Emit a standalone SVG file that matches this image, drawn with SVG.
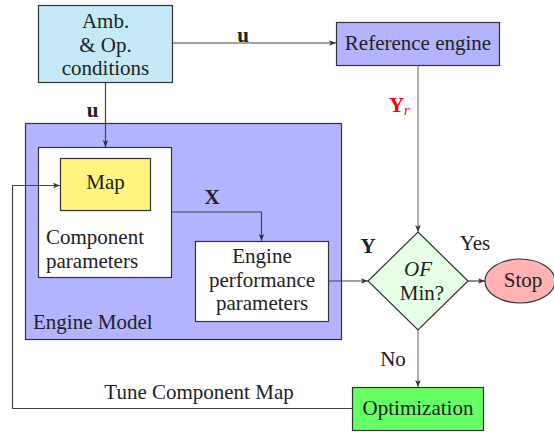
<svg xmlns="http://www.w3.org/2000/svg" width="554" height="432" viewBox="0 0 554 432">
<style>
text{font-family:"Liberation Serif","Times New Roman",serif;font-size:21px;fill:#222}
.c{text-anchor:middle}
.b{font-weight:bold}
.box{stroke:#333;stroke-width:1.2}
.ln{fill:none;stroke:#444;stroke-width:1.2}
.g{stroke:#777}
</style>
<defs>
<marker id="a" viewBox="0 0 10 10" refX="10" refY="5" markerWidth="7" markerHeight="7" orient="auto" markerUnits="userSpaceOnUse">
<path d="M0,1 L10,5 L0,9 L2.5,5 Z" fill="#333"/>
</marker>
</defs>
<g id="engine-model">
<rect class="box" x="25.5" y="123.5" width="316" height="216" fill="#b3b3ff"/>
<text x="33" y="329">Engine Model</text>
</g>
<g id="amb">
<rect class="box" x="38.5" y="5.5" width="134" height="77" fill="#c6e9f7"/>
<text class="c" x="105.5" y="28">Amb.</text>
<text class="c" x="105.5" y="52">&amp; Op.</text>
<text class="c" x="105.5" y="75">conditions</text>
</g>
<g id="reference">
<rect class="box" x="336.5" y="22.5" width="163" height="43" fill="#b3b3ff"/>
<text class="c" x="418" y="50">Reference engine</text>
</g>
<g id="component">
<rect class="box" x="38.5" y="147.5" width="133" height="130" fill="#fff"/>
<text x="46" y="244">Component</text>
<text x="46" y="268">parameters</text>
</g>
<g id="map">
<rect class="box" x="60.5" y="158.5" width="90" height="52" fill="#fff57f"/>
<text class="c" x="105.5" y="189">Map</text>
</g>
<g id="performance">
<rect class="box" x="195.5" y="241.5" width="133" height="80" fill="#fff"/>
<text class="c" x="262" y="263">Engine</text>
<text class="c" x="262" y="287">performance</text>
<text class="c" x="262" y="310">parameters</text>
</g>
<g id="decision">
<polygon class="box" points="418,232 468,281 418,330 368,281" fill="#e6ffe6"/>
<text class="c" x="418" y="276" font-style="italic">OF</text>
<text class="c" x="422" y="300">Min?</text>
</g>
<g id="stop">
<ellipse class="box" cx="520" cy="281" rx="35" ry="22" fill="#ffb3b3"/>
<text class="c" x="523" y="287">Stop</text>
</g>
<g id="optimization">
<rect class="box" x="352.5" y="387.5" width="131" height="43" fill="#66ff66"/>
<text class="c" x="418" y="415">Optimization</text>
</g>
<g id="connectors">
<path class="ln" d="M172.5,43 H336" marker-end="url(#a)"/>
<text class="c b" x="243" y="42">u</text>
<path class="ln" d="M105.5,82.5 V147" marker-end="url(#a)"/>
<text class="c b" x="92.5" y="117">u</text>
<path class="ln g" d="M418,65.5 V232" marker-end="url(#a)"/>
<text class="b" x="389" y="112" style="fill:#f00">Y</text>
<text x="404" y="115" font-style="italic" style="fill:#f00;font-size:14px">r</text>
<path class="ln" d="M171.5,212 H261.5 V241" marker-end="url(#a)"/>
<text class="c b" x="212" y="204">X</text>
<path class="ln" d="M328.5,281 H368" marker-end="url(#a)"/>
<text class="c b" x="368" y="253">Y</text>
<path class="ln" d="M468,281 H485" marker-end="url(#a)"/>
<text class="c" x="475" y="250">Yes</text>
<path class="ln g" d="M418,330 V387" marker-end="url(#a)"/>
<text class="c" x="393" y="366">No</text>
<path class="ln" d="M352.5,408.5 H12.5 V185.5 H60" marker-end="url(#a)"/>
<text class="c" x="199" y="399">Tune Component Map</text>
</g>
</svg>
